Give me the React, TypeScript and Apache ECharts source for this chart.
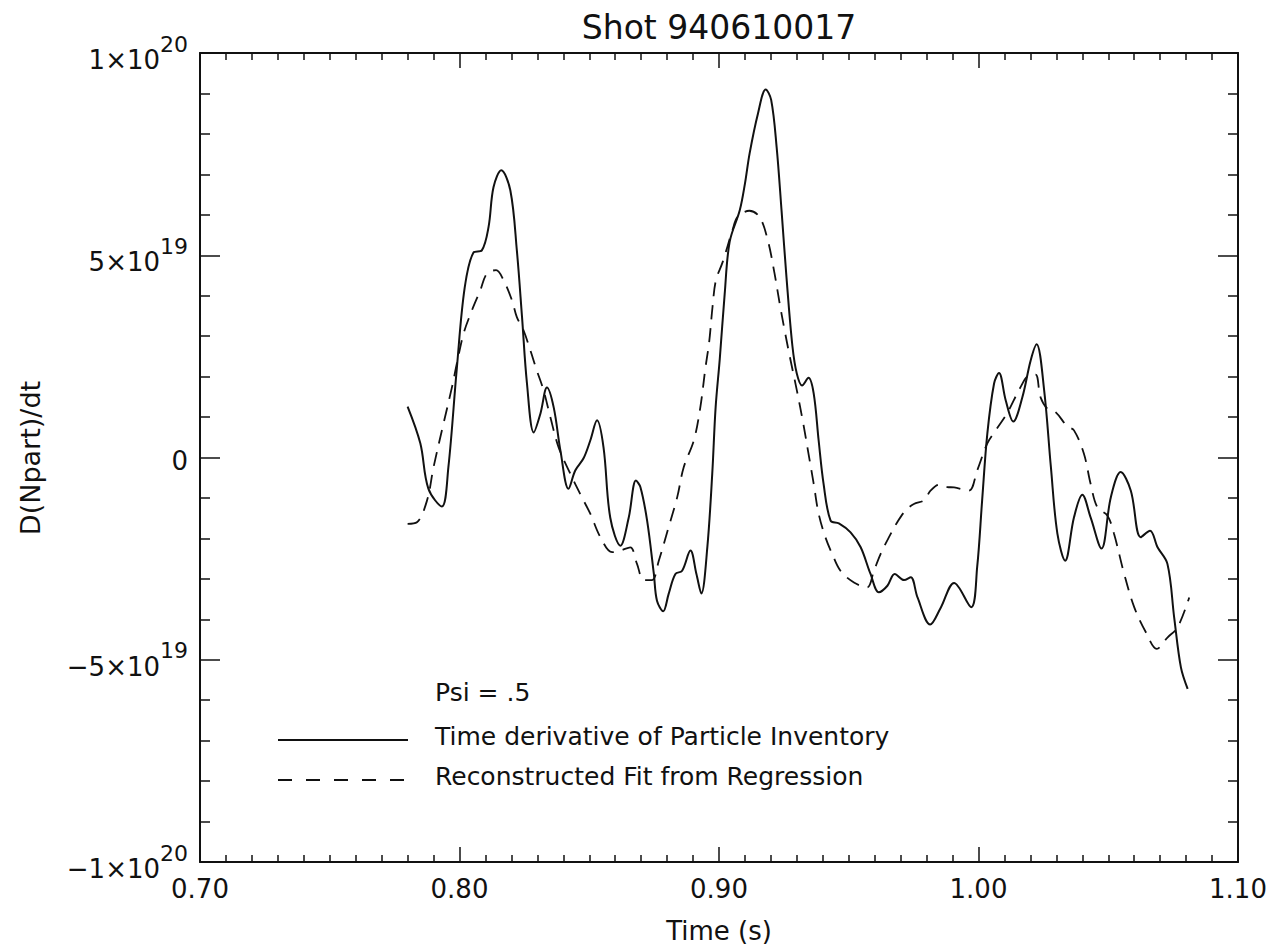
import React, { useEffect, useRef } from "react";
import * as echarts from "echarts";

// ---- Data (values in units of 1e19 particles/s) ----
const UNIT = 1e19;

const timeSolid = [
  0.78, 0.7849, 0.788, 0.7932, 0.7957, 0.799, 0.802, 0.8054, 0.8086, 0.8112, 0.8131, 0.8161, 0.8196,
  0.8221, 0.8241, 0.826, 0.8286, 0.8312, 0.8337, 0.8363, 0.8389, 0.842, 0.8446, 0.8478, 0.8504, 0.853,
  0.8555, 0.8581, 0.862, 0.8652, 0.868, 0.8697, 0.8723, 0.8749, 0.8761, 0.8785, 0.8806, 0.8832, 0.8858,
  0.889, 0.8913, 0.8932, 0.8955, 0.8974, 0.8987, 0.9003, 0.9022, 0.9041, 0.908, 0.91, 0.9118, 0.915,
  0.918, 0.9201, 0.9222, 0.9241, 0.926, 0.9283, 0.93, 0.932, 0.9345, 0.9365, 0.9384, 0.9403, 0.943,
  0.9462, 0.9507, 0.9546, 0.9584, 0.9616, 0.9649, 0.9677, 0.9713, 0.9739, 0.9765, 0.9814, 0.9854,
  0.9906, 0.9972, 0.9995, 1.0014, 1.0034, 1.006, 1.0079, 1.0105, 1.0134, 1.0169, 1.0201, 1.0224,
  1.0253, 1.0279, 1.0304, 1.0334, 1.0368, 1.04, 1.0432, 1.0474, 1.051, 1.0548, 1.0587, 1.0625, 1.0661,
  1.069, 1.0728, 1.0754, 1.078, 1.0806,
];
const valSolid = [
  1.26, 0.35, -0.77, -1.21, -0.25, 2.23, 4.2, 5.07, 5.12, 5.7, 6.68, 7.1, 6.6,
  5.12, 3.47, 1.83, 0.62, 1.09, 1.73, 1.24, 0.17, -0.77, -0.32, -0.02, 0.42, 0.92,
  0.25, -1.49, -2.18, -1.49, -0.57, -0.73, -1.56, -2.88, -3.54, -3.8, -3.37, -2.88, -2.8,
  -2.3, -2.88, -3.36, -2.22, -0.4, 1.24, 2.44, 4.05, 5.33, 6.11, 6.77, 7.52, 8.5,
  9.1, 8.84, 7.68, 6.11, 4.46, 2.75, 2.07, 1.78, 1.97, 1.58, 0.42, -0.65, -1.56,
  -1.63, -1.85, -2.22, -2.88, -3.33, -3.17, -2.88, -3.03, -2.96, -3.46, -4.13, -3.72,
  -3.1, -3.7, -2.7, -1.06, 0.59, 1.83, 2.09, 1.41, 0.89, 1.49, 2.4, 2.8,
  1.66, -0.24, -1.88, -2.55, -1.48, -0.92, -1.48, -2.25, -0.98, -0.36, -0.82, -1.97, -1.81,
  -2.22, -2.63, -3.95, -5.19, -5.72,
];

const timeFit = [
  0.78, 0.7836, 0.7875, 0.79, 0.7938, 0.7971, 0.799, 0.8016, 0.8048, 0.808, 0.8106, 0.8141, 0.817,
  0.8202, 0.8221, 0.8247, 0.8273, 0.8298, 0.8324, 0.835, 0.8382, 0.8427, 0.8465, 0.8504, 0.8543,
  0.8588, 0.862, 0.8658, 0.8684, 0.871, 0.8742, 0.8768, 0.8806, 0.8839, 0.8864, 0.8903, 0.8928,
  0.8948, 0.8962, 0.8975, 0.8988, 0.9014, 0.9052, 0.9072, 0.9117, 0.9156, 0.9188, 0.9214, 0.9234,
  0.9253, 0.9272, 0.93, 0.9325, 0.9345, 0.9365, 0.9384, 0.941, 0.9436, 0.9468, 0.952, 0.9571,
  0.9597, 0.9623, 0.9655, 0.9687, 0.9719, 0.9751, 0.979, 0.9815, 0.9848, 0.988, 0.9906, 0.9963,
  0.9995, 1.0034, 1.0066, 1.011, 1.0162, 1.0194, 1.022, 1.0239, 1.0265, 1.0297, 1.0342, 1.0368,
  1.0406, 1.0432, 1.0458, 1.0497, 1.0522, 1.0561, 1.06, 1.0645, 1.0687, 1.0728, 1.0767, 1.0812,
];
const valFit = [
  -1.64, -1.6, -1.06, -0.24, 0.83, 1.74, 2.33, 3.07, 3.64, 4.13, 4.55, 4.63, 4.38,
  3.89, 3.47, 3.14, 2.65, 2.15, 1.66, 1.0, 0.25, -0.4, -0.9, -1.39, -1.97,
  -2.34, -2.3, -2.22, -2.63, -3.03, -3.03, -2.55, -1.72, -0.98, -0.24, 0.42, 1.24,
  2.23, 2.85, 3.72, 4.38, 4.83, 5.62, 5.95, 6.1, 5.95, 5.37, 4.55, 3.8,
  3.14, 2.52, 1.66, 0.83, 0.09, -0.65, -1.39, -1.97, -2.38, -2.8, -3.09, -3.21,
  -2.8, -2.38, -1.97, -1.6, -1.31, -1.15, -1.06, -0.82, -0.67, -0.73, -0.74, -0.82,
  -0.32, 0.35, 0.67, 1.09, 1.74, 2.03, 2.05, 1.49, 1.21, 1.12, 0.77, 0.67,
  0.1, -0.65, -1.23, -1.44, -1.88, -2.87, -3.7, -4.32, -4.73, -4.45, -4.2, -3.46,
];

// ---- Tick labels ----
const yTickValues = [-1e20, -5e19, 0, 5e19, 1e20];
const yTickMantissa = ["\u22121\u00d710", "\u22125\u00d710", "0", "5\u00d710", "1\u00d710"];
const yTickExponent = ["20", "19", "", "19", "20"];

const titleText = "Shot 940610017";
const xAxisTitle = "Time (s)";
const yAxisTitle = "D(Npart)/dt";
const annotationText = "Psi = .5";
const legendSolid = "Time derivative of Particle Inventory";
const legendDashed = "Reconstructed Fit from Regression";

const FONT = "'DejaVu Sans', 'Liberation Sans', sans-serif";
const INK = "#111";

export default function App() {
  const ref = useRef<HTMLDivElement>(null);

  useEffect(() => {
    if (!ref.current) return;
    const chart = echarts.init(ref.current, undefined, { renderer: "svg" });

    const solidData = timeSolid.map((t, i) => [t, valSolid[i] * UNIT]);
    const fitData = timeFit.map((t, i) => [t, valFit[i] * UNIT]);

    const gridL = 200, gridT = 53, gridR = 47, gridB = 89;

    const xBase = {
      type: "value" as const,
      min: 0.7,
      max: 1.1,
      interval: 0.1,
      splitLine: { show: false },
      axisLine: { show: true, onZero: false, lineStyle: { color: INK, width: 2 } },
      axisTick: { show: true, inside: true, length: 15, lineStyle: { color: INK, width: 1.5 } },
      minorTick: { show: true, splitNumber: 10, length: 7, lineStyle: { color: INK, width: 1.5 } },
      minorSplitLine: { show: false },
    };
    const yBase = {
      type: "value" as const,
      min: -1e20,
      max: 1e20,
      interval: 5e19,
      splitLine: { show: false },
      axisLine: { show: true, onZero: false, lineStyle: { color: INK, width: 2 } },
      axisTick: { show: true, inside: true, length: 20, lineStyle: { color: INK, width: 1.5 } },
      minorTick: { show: true, splitNumber: 5, length: 10, lineStyle: { color: INK, width: 1.5 } },
      minorSplitLine: { show: false },
    };

    const yLabel = (v: number) => {
      let idx = -1;
      for (let i = 0; i < yTickValues.length; i++) {
        if (Math.abs(yTickValues[i] - v) < 1e15) idx = i;
      }
      if (idx < 0) return "";
      if (!yTickExponent[idx]) return "{z|" + yTickMantissa[idx] + "}";
      return "{b|" + yTickMantissa[idx] + "}{s|" + yTickExponent[idx] + "}";
    };

    chart.setOption({
      animation: false,
      backgroundColor: "#ffffff",
      grid: { left: gridL, top: gridT, right: gridR, bottom: gridB, containLabel: false },
      xAxis: [
        {
          ...xBase,
          position: "bottom",
          axisLabel: {
            show: true,
            margin: 14,
            color: INK,
            fontFamily: FONT,
            fontSize: 26,
            formatter: (v: number) => v.toFixed(2),
          },
        },
        { ...xBase, position: "top", axisLabel: { show: false } },
      ],
      yAxis: [
        {
          ...yBase,
          position: "left",
          axisLabel: {
            show: true,
            margin: 12,
            color: INK,
            fontFamily: FONT,
            formatter: yLabel,
            rich: {
              b: { fontSize: 26, fontFamily: FONT, color: INK, padding: [14, 0, 0, 0], verticalAlign: "bottom" },
              s: { fontSize: 22, fontFamily: FONT, color: INK, verticalAlign: "top", lineHeight: 22 },
              z: { fontSize: 26, fontFamily: FONT, color: INK, padding: [6, 0, 0, 0] },
            },
          },
        },
        { ...yBase, position: "right", axisLabel: { show: false } },
      ],
      series: [
        {
          type: "line",
          name: legendSolid,
          data: solidData,
          xAxisIndex: 0,
          yAxisIndex: 0,
          showSymbol: false,
          smooth: 0.35,
          lineStyle: { color: INK, width: 2, type: "solid" },
          silent: true,
          z: 3,
        },
        {
          type: "line",
          name: legendDashed,
          data: fitData,
          xAxisIndex: 0,
          yAxisIndex: 0,
          showSymbol: false,
          smooth: 0.35,
          lineStyle: { color: INK, width: 1.8, type: [14, 9] },
          silent: true,
          z: 2,
        },
      ],
      graphic: [
        {
          type: "text",
          x: 719,
          y: 27,
          style: { text: titleText, font: `33px ${FONT}`, fill: INK, align: "center", verticalAlign: "middle" },
        },
        {
          type: "text",
          x: 719,
          y: 931,
          style: { text: xAxisTitle, font: `26px ${FONT}`, fill: INK, align: "center", verticalAlign: "middle" },
        },
        {
          type: "text",
          x: 30,
          y: 458,
          rotation: Math.PI / 2,
          style: { text: yAxisTitle, font: `27px ${FONT}`, fill: INK, align: "center", verticalAlign: "middle" },
        },
        {
          type: "text",
          x: 435,
          y: 692,
          style: { text: annotationText, font: `25px ${FONT}`, fill: INK, align: "left", verticalAlign: "middle" },
        },
        {
          type: "line",
          shape: { x1: 278, y1: 740, x2: 408, y2: 740 },
          style: { stroke: INK, lineWidth: 2 },
        },
        {
          type: "text",
          x: 435,
          y: 736,
          style: { text: legendSolid, font: `25px ${FONT}`, fill: INK, align: "left", verticalAlign: "middle" },
        },
        {
          type: "line",
          shape: { x1: 278, y1: 780, x2: 408, y2: 780 },
          style: { stroke: INK, lineWidth: 2, lineDash: [14, 14] },
        },
        {
          type: "text",
          x: 435,
          y: 776,
          style: { text: legendDashed, font: `25px ${FONT}`, fill: INK, align: "left", verticalAlign: "middle" },
        },
      ],
    });

    return () => chart.dispose();
  }, []);

  return (
    <div
      ref={ref}
      style={{ position: "absolute", left: 0, top: 0, width: 1285, height: 951, background: "#fff" }}
    />
  );
}
